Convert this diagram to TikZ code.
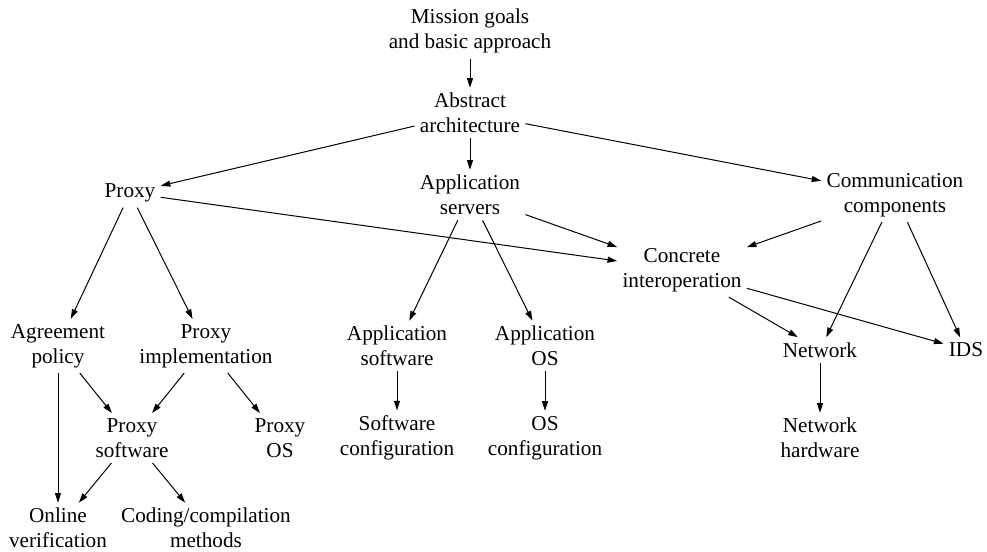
\documentclass[tikz,border=0pt]{standalone}
\usepackage{fontspec}
\setmainfont{Liberation Serif}
\usetikzlibrary{arrows.meta}

\begin{document}
\begin{tikzpicture}[x=0.5pt,y=-0.5pt,
    item/.style={align=center,inner sep=2.5pt,font=\fontsize{10.6}{12.5}\selectfont},
    link/.style={line width=0.5pt,-{Triangle[length=4.8pt,width=3pt]}}]
  \useasboundingbox (0,0) rectangle (987,552);
  \node[item] (mission) at (470,31) {Mission goals\\and basic approach};
  \node[item] (abstract) at (470,113) {Abstract\\architecture};
  \node[item] (proxy) at (130,193) {Proxy};
  \node[item] (servers) at (470,195) {Application\\servers};
  \node[item] (comm) at (895,195) {Communication\\components};
  \node[item] (concrete) at (682,270) {Concrete\\interoperation};
  \node[item] (agreement) at (58,346) {Agreement\\policy};
  \node[item] (implementation) at (206,346) {Proxy\\implementation};
  \node[item] (appsoftware) at (397,346) {Application\\software};
  \node[item] (appos) at (545,346) {Application\\OS};
  \node[item] (network) at (820,350) {Network};
  \node[item] (ids) at (966,350) {IDS};
  \node[item] (proxysoftware) at (132,438) {Proxy\\software};
  \node[item] (proxyos) at (280,438) {Proxy\\OS};
  \node[item] (softconfig) at (397,438) {Software\\configuration};
  \node[item] (osconfig) at (545,438) {OS\\configuration};
  \node[item] (hardware) at (820,438) {Network\\hardware};
  \node[item] (online) at (58,528) {Online\\verification};
  \node[item] (coding) at (206,528) {Coding/compilation\\methods};
  \draw[link] (mission) -- (abstract);
  \draw[link] (abstract) -- (proxy);
  \draw[link] (abstract) -- (servers);
  \draw[link] (abstract) -- (comm);
  \draw[link] (proxy) -- (concrete);
  \draw[link] (servers) -- (concrete);
  \draw[link] (comm) -- (concrete);
  \draw[link] (proxy) -- (agreement);
  \draw[link] (proxy) -- (implementation);
  \draw[link] (servers) -- (appsoftware);
  \draw[link] (servers) -- (appos);
  \draw[link] (comm) -- (network);
  \draw[link] (comm) -- (ids);
  \draw[link] (concrete) -- (network);
  \draw[link] (concrete) -- (ids);
  \draw[link] (agreement) -- (online);
  \draw[link] (agreement) -- (proxysoftware);
  \draw[link] (implementation) -- (proxysoftware);
  \draw[link] (implementation) -- (proxyos);
  \draw[link] (proxysoftware) -- (online);
  \draw[link] (proxysoftware) -- (coding);
  \draw[link] (appsoftware) -- (softconfig);
  \draw[link] (appos) -- (osconfig);
  \draw[link] (network) -- (hardware);
\end{tikzpicture}
\end{document}
